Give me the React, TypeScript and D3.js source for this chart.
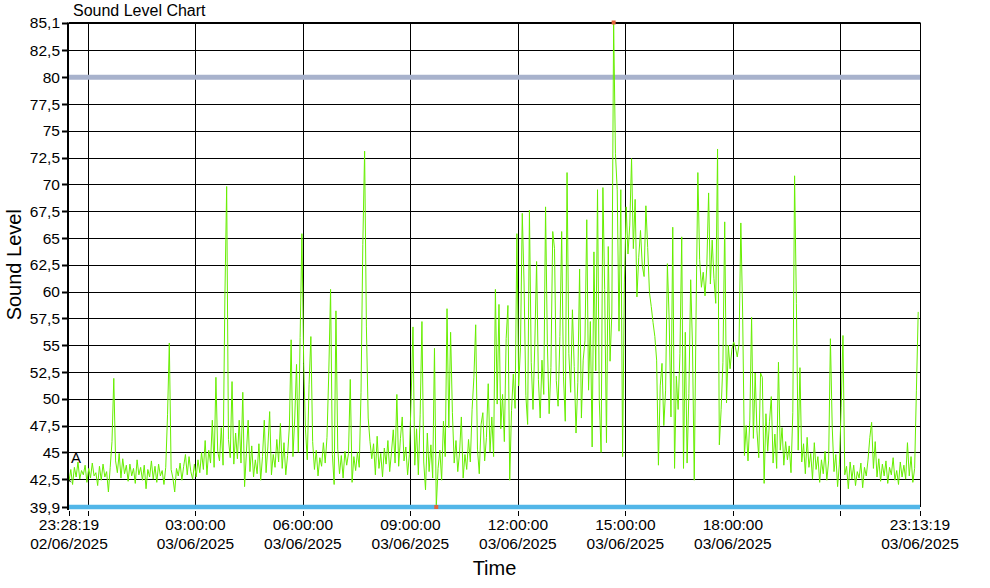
import React from "react";
import * as d3 from "d3";

const startTime = new Date(2025, 5, 2, 23, 28, 19);
const endTime = new Date(2025, 5, 3, 23, 13, 19);
const stepMinutes = 3;

const levelsNight = [
  42.3, 43.4, 42.0, 43.6, 42.7, 44.1, 42.5, 43.3, 42.9, 43.8, 42.2, 43.5,
  42.6, 44.0, 42.8, 43.1, 41.9, 43.7, 42.4, 43.9, 42.7, 43.2, 41.3, 43.6,
  46.0, 51.9, 44.2, 43.1, 44.9, 42.6, 44.4, 43.0, 43.8, 42.3, 43.9, 42.8,
  43.5, 42.1, 44.3, 42.9, 43.6, 42.4, 43.8, 41.6, 43.4, 42.7, 44.2, 42.5,
  43.7, 42.2, 43.9, 42.8, 43.3, 42.0, 43.6, 48.5, 55.2, 43.4, 42.6, 41.3,
  43.5, 42.8, 44.0, 42.4, 43.7, 44.8, 42.9, 44.6, 43.2, 42.5, 43.9, 42.7,
  44.3, 43.1, 45.0, 43.4, 46.1, 42.9, 45.2, 44.0, 48.0, 43.6, 52.0, 45.1,
  44.2, 47.3, 43.8, 59.3, 69.8, 46.2, 44.5, 51.6, 43.9, 46.8, 44.4, 48.0,
];
const levelsEarly = [
  44.0, 50.6, 41.8, 44.9, 48.0, 43.2, 45.6, 42.7, 44.3, 43.0, 45.8, 42.4,
  44.6, 48.0, 43.1, 45.5, 48.8, 42.9, 44.8, 43.6, 46.2, 44.1, 47.7, 43.5,
  45.9, 42.9, 44.7, 47.4, 55.5, 44.6, 48.2, 53.2, 45.0, 55.7, 65.4, 53.3,
  47.1, 44.3, 51.3, 55.8, 46.0, 43.4, 45.2, 42.8, 44.5, 43.7, 45.9, 44.0,
  46.4, 52.4, 60.2, 44.8, 42.0, 58.2, 45.3, 43.0, 44.7, 42.6, 45.1, 43.8,
  44.9, 51.8, 42.2, 44.6, 43.3, 45.0, 43.6, 50.6, 64.4, 73.1, 56.7, 48.2,
  46.0, 44.4, 45.8, 42.9, 46.5, 43.5, 44.9, 42.7, 45.4, 43.9, 46.1, 43.2,
  45.0, 47.1, 44.0, 50.4, 43.7, 46.3, 48.3, 44.2, 45.5, 42.9, 44.8, 50.2,
];
const levelsMorning = [
  56.7, 43.8, 47.2, 42.9, 48.5, 57.2, 44.1, 41.5, 46.8, 43.2, 45.7, 42.6,
  54.7, 39.9, 43.5, 45.2, 42.4, 47.9, 44.6, 58.4, 47.3, 56.2, 48.7, 44.0,
  46.1, 43.2, 45.0, 48.3, 42.6, 44.8, 43.4, 46.2, 44.1, 49.0, 52.0, 56.9,
  45.3, 43.0, 47.6, 48.7, 44.2, 46.4, 51.4, 45.0, 48.3, 44.6, 60.2, 49.5,
  58.8, 47.2, 50.4, 46.0, 55.6, 58.7, 42.4, 48.9, 52.3, 49.1, 65.4, 51.2,
  54.8, 67.3, 60.8, 50.3, 47.6, 67.6, 53.4, 49.0, 55.1, 62.8, 51.8, 48.2,
  53.6, 50.4, 67.9, 55.2, 48.6, 52.9, 65.6, 64.0, 51.7, 49.3, 55.8, 65.6,
  52.1, 47.9, 71.1, 54.2, 50.6, 58.3, 53.0, 46.8, 51.5, 62.1, 48.2, 53.6,
];
const levelsAfternoon = [
  55.4, 66.7, 50.8, 57.2, 45.5, 63.7, 52.6, 69.5, 49.8, 45.0, 69.7, 60.2,
  45.9, 64.2, 53.5, 58.0, 85.1, 72.9, 69.5, 56.3, 69.5, 44.6, 60.8, 67.9,
  63.5, 66.2, 72.4, 64.0, 68.6, 59.5, 63.2, 65.7, 62.4, 61.4, 68.0, 64.1,
  59.9, 58.6, 57.1, 55.8, 53.6, 43.8, 51.2, 53.3, 47.5, 50.8, 62.6, 57.4,
  48.3, 66.0, 43.5, 52.1, 49.0, 54.2, 65.1, 43.5, 56.2, 44.0, 50.5, 61.1,
  55.0, 42.4, 57.8, 71.1, 63.0, 60.4, 61.8, 59.6, 62.3, 69.2, 60.7, 64.8,
  61.2, 58.9, 73.3, 45.7, 49.0, 53.4, 66.5, 49.6, 55.0, 52.8, 54.6, 55.3,
  54.8, 53.9, 55.1, 66.4, 58.0, 44.7, 47.5, 44.2, 48.0, 57.6, 46.3, 52.4,
];
const levelsEvening = [
  47.0, 44.5, 52.4, 52.0, 42.1, 48.6, 45.1, 47.9, 50.2, 44.0, 46.7, 43.5,
  53.4, 45.2, 47.3, 43.8, 46.0, 44.3, 45.6, 43.1, 48.7, 70.8, 58.9, 45.2,
  52.9, 44.1, 45.8, 43.0, 46.4, 43.6, 44.9, 42.5, 45.9, 43.4, 44.6, 42.2,
  44.3, 43.0, 45.1, 42.4, 44.2, 55.6, 47.4, 43.2, 44.8, 41.8, 43.9, 49.2,
  55.9, 42.9, 43.7, 41.6, 44.1, 42.5, 43.8, 41.9, 43.2, 42.6, 44.0, 41.7,
  43.6, 42.8, 44.3, 46.4, 47.8, 43.5, 46.0, 42.7, 44.4, 42.3, 43.9, 42.8,
  44.2, 42.1, 43.6, 42.9, 44.5, 42.4, 43.3, 42.0, 44.1, 42.7, 43.8, 42.5,
  45.9, 42.8, 44.6, 42.2, 43.5, 50.8, 58.1,
];

const levels = [
  ...levelsNight,
  ...levelsEarly,
  ...levelsMorning,
  ...levelsAfternoon,
  ...levelsEvening,
];

const yTickValues = [
  39.9, 42.5, 45, 47.5, 50, 52.5, 55, 57.5, 60, 62.5, 65, 67.5, 70, 72.5, 75,
  77.5, 80, 82.5, 85.1,
];
const yMin = 39.9;
const yMax = 85.1;
const limitHigh = 80;
const chartTitle = "Sound Level Chart";
const xTitle = "Time";
const yTitle = "Sound Level";
const markerLabel = "A";

const FONT = "'Liberation Sans', Arial, sans-serif";

export default function App() {
  const W = 990;
  const H = 588;
  const left = 69;
  const right = 920;
  const top = 22.5;
  const bottom = 507;

  const x = d3.scaleTime().domain([startTime, endTime]).range([left, right]);
  const y = d3.scaleLinear().domain([yMin, yMax]).range([bottom, top]);

  const data = levels.map((v, i) => ({
    t: d3.timeMinute.offset(startTime, i * stepMinutes),
    v,
  }));
  const line = d3
    .line<{ t: Date; v: number }>()
    .x((d) => x(d.t))
    .y((d) => y(d.v));

  const hourTicks = x.ticks(d3.timeHour.every(3) as any) as Date[];
  const fmtTime = d3.timeFormat("%H:%M:%S");
  const fmtDate = d3.timeFormat("%d/%m/%Y");
  const fmtNum = (v: number) => String(v).replace(".", ",");

  const maxI = d3.maxIndex(data, (d) => d.v);
  const minI = d3.minIndex(data, (d) => d.v);

  const labelTicks = [
    startTime,
    ...hourTicks.filter((t) => x(t) - left > 85 && right - x(t) > 85),
    endTime,
  ];

  return (
    <svg
      width={W}
      height={H}
      style={{ position: "absolute", left: 0, top: 0, background: "#fff" }}
      fontFamily={FONT}
    >
      <rect x={0} y={0} width={W} height={H} fill="#fff" />
      {yTickValues.map((v) => (
        <line
          key={"h" + v}
          x1={left}
          x2={right}
          y1={Math.round(y(v)) + 0.5}
          y2={Math.round(y(v)) + 0.5}
          stroke="#000"
          strokeWidth={1}
        />
      ))}
      {hourTicks.map((t) => (
        <line
          key={"v" + t.getTime()}
          x1={Math.round(x(t)) + 0.5}
          x2={Math.round(x(t)) + 0.5}
          y1={top}
          y2={bottom}
          stroke="#000"
          strokeWidth={1}
        />
      ))}
      <line
        x1={left}
        x2={right}
        y1={y(limitHigh)}
        y2={y(limitHigh)}
        stroke="#A8B2CC"
        strokeWidth={5}
      />
      <path d={line(data) || ""} fill="none" stroke="#66EE00" strokeWidth={1} />
      <line
        x1={left}
        x2={right}
        y1={bottom}
        y2={bottom}
        stroke="#52B6E8"
        strokeWidth={4.5}
      />
      <line x1={left} x2={right} y1={top} y2={top} stroke="#000" strokeWidth={1} />
      <line
        x1={right + 0.5}
        x2={right + 0.5}
        y1={top}
        y2={bottom}
        stroke="#000"
        strokeWidth={1}
      />
      <line x1={left - 1} x2={left - 1} y1={top} y2={bottom + 3} stroke="#000" strokeWidth={2} />
      {yTickValues.map((v) => (
        <g key={"yt" + v}>
          <line
            x1={62}
            x2={left - 1}
            y1={Math.round(y(v)) + 0.5}
            y2={Math.round(y(v)) + 0.5}
            stroke="#000"
            strokeWidth={2}
          />
          <text
            x={60}
            y={y(v)}
            dy="0.36em"
            textAnchor="end"
            fontSize={15.5}
            fill="#000"
          >
            {fmtNum(v)}
          </text>
        </g>
      ))}
      {[startTime, ...hourTicks, endTime].map((t) => (
        <line
          key={"xt" + t.getTime()}
          x1={Math.round(x(t)) + 0.5}
          x2={Math.round(x(t)) + 0.5}
          y1={511}
          y2={516}
          stroke="#000"
          strokeWidth={1}
        />
      ))}
      {labelTicks.map((t) => (
        <g key={"xl" + t.getTime()}>
          <text x={x(t)} y={530} textAnchor="middle" fontSize={15.5} fill="#000">
            {fmtTime(t)}
          </text>
          <text x={x(t)} y={549} textAnchor="middle" fontSize={15.5} fill="#000">
            {fmtDate(t)}
          </text>
        </g>
      ))}
      <rect
        x={x(data[maxI].t) - 2}
        y={y(data[maxI].v) - 2}
        width={4}
        height={4}
        fill="#E0643C"
      />
      <rect
        x={x(data[minI].t) - 2}
        y={y(data[minI].v) - 2}
        width={4}
        height={4}
        fill="#E0643C"
      />
      <text x={71} y={463} fontSize={15} fill="#000">
        {markerLabel}
      </text>
      <path
        d={`M${left - 1},${y(data[0].v) - 2}l3,3m0,-3l-3,3`}
        stroke="#000"
        strokeWidth={0.8}
        fill="none"
      />
      <text x={73} y={16} fontSize={16} fill="#000">
        {chartTitle}
      </text>
      <text
        transform={`translate(21, ${(top + bottom) / 2}) rotate(-90)`}
        textAnchor="middle"
        fontSize={20}
        fill="#000"
      >
        {yTitle}
      </text>
      <text x={(left + right) / 2} y={575} textAnchor="middle" fontSize={20} fill="#000">
        {xTitle}
      </text>
    </svg>
  );
}
